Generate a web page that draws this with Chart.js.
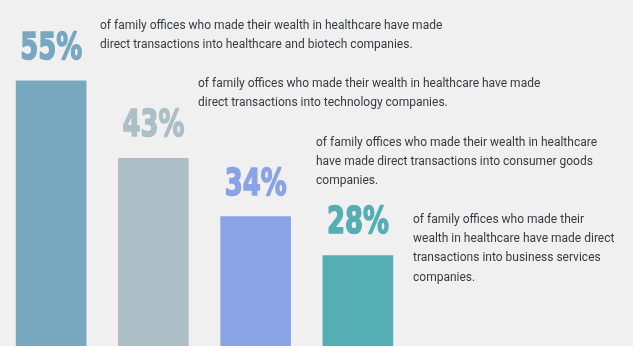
<!DOCTYPE html>
<html><head><meta charset="utf-8">
<script src="https://cdn.jsdelivr.net/npm/chart.js@4"></script>
<style>html,body{margin:0;padding:0;background:#f0f0f0;overflow:hidden}</style></head>
<body><canvas id="c" width="633" height="346"></canvas>
<script>
// Sectors where healthcare-wealth family offices made direct transactions
const sectors = ['Healthcare & biotech', 'Technology', 'Consumer goods', 'Business services'];
const shares = [55, 43, 34, 28];
const barColors = ['#77a8c0', '#adbfc6', '#8aa3e6', '#55aeb4'];
const notes = [
  ['of family offices who made their wealth in healthcare have made',
   'direct transactions into healthcare and biotech companies.'],
  ['of family offices who made their wealth in healthcare have made',
   'direct transactions into technology companies.'],
  ['of family offices who made their wealth in healthcare',
   'have made direct transactions into consumer goods',
   'companies.'],
  ['of family offices who made their',
   'wealth in healthcare have made direct',
   'transactions into business services',
   'companies.']
];

// where each note block begins (left edge, middle of first line)
const noteAnchors = [[100, 26], [198, 84], [316, 143], [413, 220]];

const annotate = {
  id: 'annotate',
  afterDatasetsDraw(chart) {
    const c = chart.ctx;
    const meta = chart.getDatasetMeta(0);
    c.save();
    meta.data.forEach((bar, i) => {
      // big heavy condensed percentage over each bar
      c.save();
      c.fillStyle = barColors[i];
      c.strokeStyle = barColors[i];
      c.lineWidth = 1.6;
      c.lineJoin = 'round';
      c.font = 'bold 37px "DejaVu Sans"';
      c.textAlign = 'center';
      c.textBaseline = 'alphabetic';
      c.translate(bar.x, bar.y - 22);
      c.scale(0.7, 1);
      c.fillText(shares[i] + '%', 0, 0);
      c.strokeText(shares[i] + '%', 0, 0);
      c.restore();
      // descriptive note
      c.fillStyle = '#363b40';
      c.font = '12px Roboto';
      c.textAlign = 'left';
      c.textBaseline = 'middle';
      const [nx, ny] = noteAnchors[i];
      notes[i].forEach((line, k) => c.fillText(line, nx, ny + k * 19.2));
    });
    c.restore();
  }
};

new Chart(document.getElementById('c'), {
  type: 'bar',
  data: {
    labels: sectors,
    datasets: [{
      data: shares,
      backgroundColor: barColors,
      borderWidth: 0,
      barThickness: 70
    }]
  },
  options: {
    responsive: false,
    animation: false,
    layout: { padding: { left: 0, right: 224, top: 0, bottom: 0 } },
    plugins: { legend: { display: false }, tooltip: { enabled: false } },
    scales: {
      x: { display: false },
      y: { display: false, min: 14, max: 67.5 }
    }
  },
  plugins: [annotate]
});
</script></body></html>
